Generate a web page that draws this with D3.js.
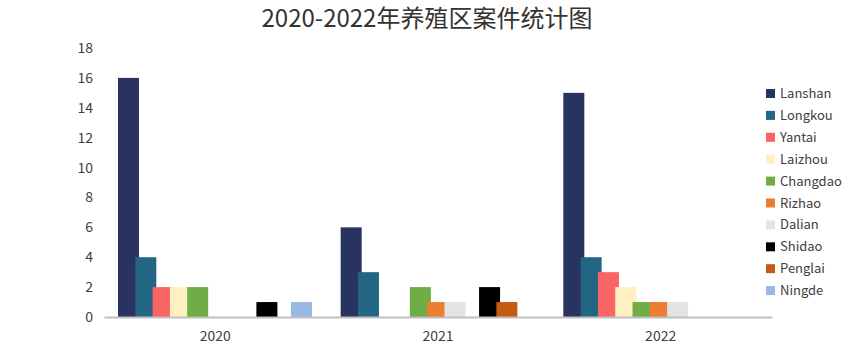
<!DOCTYPE html>
<html><head><meta charset="utf-8">
<script src="https://cdn.jsdelivr.net/npm/d3@7"></script>
<style>
html,body{margin:0;padding:0;background:#fff;}
text{font-family:"Noto Sans CJK SC","Open Sans",sans-serif;fill:#404040;}
</style></head>
<body><svg id="c" width="860" height="356"></svg>
<script>
const title = "2020-2022年养殖区案件统计图";
const years = ["2020", "2021", "2022"];
const seriesNames = ["Lanshan","Longkou","Yantai","Laizhou","Changdao","Rizhao","Dalian","Shidao","Penglai","Ningde"];
const seriesColors = ["#29335f","#236684","#f96464","#fff0c1","#70ad47","#ed7d31","#e4e4e4","#000000","#c55a11","#98b9e1"];
// slot order in each cluster (an empty, unlabelled slot sits between Dalian and Shidao)
const slots = ["Lanshan","Longkou","Yantai","Laizhou","Changdao","Rizhao","Dalian","(blank)","Shidao","Penglai","Ningde"];
const Lanshan  = [16, 6, 15];
const Longkou  = [4, 3, 4];
const Yantai   = [2, 0, 3];
const Laizhou  = [2, 0, 2];
const Changdao = [2, 2, 1];
const Rizhao   = [0, 1, 1];
const Dalian   = [0, 1, 1];
const Shidao   = [1, 2, 0];
const Penglai  = [0, 1, 0];
const Ningde   = [1, 0, 0];
const yTicks = [0,2,4,6,8,10,12,14,16,18];

(function(){
const values = [Lanshan,Longkou,Yantai,Laizhou,Changdao,Rizhao,Dalian,Shidao,Penglai,Ningde];
const svg = d3.select("#c");
const mLeft = 104, mRight = 772, mTop = 48, mBottom = 317;

const x = d3.scaleBand().domain(years).range([mLeft, mRight]).paddingInner(0).paddingOuter(0);
const y = d3.scaleLinear().domain([0, 18]).range([mBottom, mTop]);
const inner = 14;
const slotStep = 17.3, barW = 21;
const xs = d3.scalePoint().domain(slots).range([0, slotStep * (slots.length - 1)]);

svg.append("text").attr("x", 427).attr("y", 27).attr("text-anchor", "middle")
  .style("font-size", "24px").style("fill", "#333").text(title);

const yAxis = svg.append("g").attr("transform", `translate(${mLeft},0)`)
  .call(d3.axisLeft(y).tickValues(yTicks).tickSize(0).tickPadding(11));
yAxis.select(".domain").remove();
yAxis.selectAll("text").style("font-size", "14px").style("fill", "#404040")
  .style("font-family", '"Noto Sans CJK SC","Open Sans",sans-serif');

seriesNames.forEach((name, si) => {
  svg.append("g").selectAll("rect").data(years.map((yr, i) => ({yr, v: values[si][i]})).filter(d => d.v > 0))
    .join("rect")
    .attr("x", d => x(d.yr) + inner + xs(name))
    .attr("y", d => y(d.v))
    .attr("width", barW)
    .attr("height", d => y(0) - y(d.v))
    .attr("fill", seriesColors[si]);
});

const xAxis = svg.append("g").attr("transform", `translate(0,${mBottom})`)
  .call(d3.axisBottom(x).tickSize(0).tickPadding(14));
xAxis.select(".domain").attr("stroke", "#bfbfbf").attr("stroke-width", 2);
xAxis.selectAll("text").style("font-size", "14px").style("fill", "#404040")
  .style("font-family", '"Noto Sans CJK SC","Open Sans",sans-serif');

const lg = svg.append("g");
seriesNames.forEach((name, i) => {
  const cy = 93.5 + i * 21.9;
  lg.append("rect").attr("x", 766).attr("y", cy - 4.5).attr("width", 9).attr("height", 9).attr("fill", seriesColors[i]);
  lg.append("text").attr("x", 780).attr("y", cy).attr("dy", "0.35em").style("font-size", "13px").text(name);
});
})();
</script></body></html>
